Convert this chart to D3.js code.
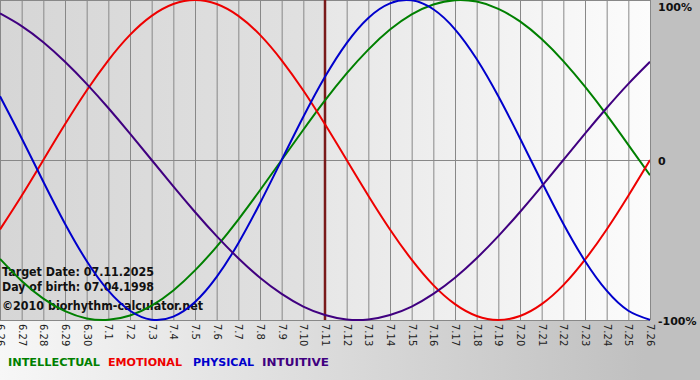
<!DOCTYPE html>
<html>
<head>
<meta charset="utf-8">
<script src="https://cdnjs.cloudflare.com/ajax/libs/d3/7.8.5/d3.min.js"></script>
<style>
  body { margin: 0; background: #fff; }
  svg { display: block; }
</style>
</head>
<body>
<div id="chart"></div>
<script>
// days shown on the chart (6.26 - 7.26)
var dayLabels = ['6.26','6.27','6.28','6.29','6.30','7.1','7.2','7.3','7.4','7.5','7.6','7.7','7.8','7.9','7.10',
  '7.11','7.12','7.13','7.14','7.15','7.16','7.17','7.18','7.19','7.20','7.21','7.22','7.23','7.24','7.25','7.26'];
var targetDay = '7.11';

// cycle values per day, -1 .. 1
var intellectual = [-0.618,-0.756,-0.866,-0.945,-0.990,-0.999,-0.972,-0.910,-0.815,-0.690,-0.541,-0.372,-0.189,0,
  0.189,0.372,0.541,0.690,0.815,0.910,0.972,0.999,0.990,0.945,0.866,0.756,0.618,0.458,0.282,0.095,-0.095];
var emotional = [-0.434,-0.223,0,0.223,0.434,0.623,0.782,0.901,0.975,1,0.975,0.901,0.782,0.623,0.434,0.223,0,
  -0.223,-0.434,-0.623,-0.782,-0.901,-0.975,-1,-0.975,-0.901,-0.782,-0.623,-0.434,-0.223,0];
var physical = [0.398,0.136,-0.136,-0.398,-0.631,-0.817,-0.942,-0.998,-0.979,-0.888,-0.731,-0.520,-0.270,0,
  0.270,0.520,0.731,0.888,0.979,0.998,0.942,0.817,0.631,0.398,0.136,-0.136,-0.398,-0.631,-0.817,-0.942,-0.998];
var intuitive = [0.916,0.837,0.736,0.614,0.476,0.325,0.165,0,-0.165,-0.325,-0.476,-0.614,-0.736,-0.837,-0.916,
  -0.969,-0.997,-0.997,-0.969,-0.916,-0.837,-0.736,-0.614,-0.476,-0.325,-0.165,0,0.165,0.325,0.476,0.614];

var seriesNames = ['INTELLECTUAL', 'EMOTIONAL', 'PHYSICAL', 'INTUITIVE'];
var seriesColors = ['#008000', '#ee0000', '#0000cc', '#400080'];
var seriesValues = [intellectual, emotional, physical, intuitive];

var yTicks = [1, 0, -1];
var yTickLabels = ['100%', '0', '-100%'];

var infoLines = ['Target Date: 07.11.2025', 'Day of birth: 07.04.1998', '\u00a92010 biorhythm-calculator.net'];

var svgWidth = 700,
    svgHeight = 380,
    plotW = 650,
    plotH = 320;

var svg = d3.select('#chart')
  .append('svg')
  .attr('width', svgWidth)
  .attr('height', svgHeight);

var defs = svg.append('defs');

var bgGrad = defs.append('linearGradient').attr('id', 'bgGrad').attr('x1', 0).attr('x2', 1).attr('y1', 0).attr('y2', 0);
bgGrad.append('stop').attr('offset', '0%').attr('stop-color', '#f7f7f7');
bgGrad.append('stop').attr('offset', '92%').attr('stop-color', '#c0c0c0');

var pastGrad = defs.append('linearGradient').attr('id', 'pastGrad').attr('x1', 0).attr('x2', 1).attr('y1', 0).attr('y2', 0);
pastGrad.append('stop').attr('offset', '0%').attr('stop-color', '#d6d6d6');
pastGrad.append('stop').attr('offset', '100%').attr('stop-color', '#e1e1e1');

var futureGrad = defs.append('linearGradient').attr('id', 'futureGrad').attr('x1', 0).attr('x2', 1).attr('y1', 0).attr('y2', 0);
futureGrad.append('stop').attr('offset', '0%').attr('stop-color', '#e7e7e7');
futureGrad.append('stop').attr('offset', '100%').attr('stop-color', '#fcfcfc');

defs.append('clipPath').attr('id', 'plotClip')
  .append('rect').attr('x', 0).attr('y', -2).attr('width', plotW).attr('height', plotH + 4);

svg.append('rect')
  .attr('width', svgWidth)
  .attr('height', svgHeight)
  .attr('fill', 'url(#bgGrad)');

var x = d3.scalePoint()
  .domain(dayLabels)
  .range([0, plotW]);

var y = d3.scaleLinear()
  .domain([-1, 1])
  .range([plotH, 0]);

var xTarget = x(targetDay);

// plot background, past and future halves
svg.append('rect')
  .attr('x', 0).attr('y', 0)
  .attr('width', xTarget).attr('height', plotH)
  .attr('fill', 'url(#pastGrad)');
svg.append('rect')
  .attr('x', xTarget).attr('y', 0)
  .attr('width', plotW - xTarget).attr('height', plotH)
  .attr('fill', 'url(#futureGrad)');

// vertical grid + rotated day labels
var xAxis = svg.append('g')
  .attr('transform', 'translate(0,' + plotH + ')')
  .call(d3.axisBottom(x).tickSizeInner(-plotH).tickSizeOuter(0));

xAxis.select('.domain').remove();
xAxis.selectAll('.tick line')
  .attr('stroke', '#888')
  .attr('stroke-width', 1);
xAxis.selectAll('.tick text')
  .attr('transform', 'rotate(90)')
  .attr('x', 4)
  .attr('y', 0)
  .attr('dy', '0.35em')
  .attr('text-anchor', 'start')
  .attr('font-family', 'Tahoma, "DejaVu Sans", sans-serif')
  .attr('font-size', '10px')
  .attr('fill', '#222');

// horizontal lines + right labels
var yAxis = svg.append('g')
  .attr('transform', 'translate(' + plotW + ',0)')
  .call(d3.axisRight(y).tickValues(yTicks).tickSizeInner(-plotW).tickSizeOuter(0).tickPadding(8)
    .tickFormat(function(d, i) { return yTickLabels[i]; }));

yAxis.select('.domain').remove();
yAxis.selectAll('.tick line')
  .attr('stroke', '#888')
  .attr('stroke-width', 1);
yAxis.selectAll('.tick text')
  .attr('font-family', '"DejaVu Sans", Verdana, sans-serif')
  .attr('font-weight', 'bold')
  .attr('font-size', '11px')
  .attr('fill', '#111')
  .attr('dy', function(d) { return d === 1 ? '0.95em' : '0.4em'; });

// target date line
svg.append('line')
  .attr('x1', xTarget).attr('x2', xTarget)
  .attr('y1', 0).attr('y2', plotH)
  .attr('stroke', '#7a1a1a')
  .attr('stroke-width', 2.5);

// info text
svg.append('g').selectAll('text')
  .data(infoLines)
  .enter()
  .append('text')
  .text(function(d) { return d; })
  .attr('x', 2)
  .attr('y', function(d, i) { return [276, 291, 310][i]; })
  .attr('textLength', function(d, i) { return [152, 152, 201][i]; })
  .attr('lengthAdjust', 'spacingAndGlyphs')
  .attr('font-family', '"DejaVu Sans", Verdana, sans-serif')
  .attr('font-weight', 'bold')
  .attr('font-size', '12px')
  .attr('fill', '#111');

// curves
var line = d3.line()
  .x(function(d, i) { return x(dayLabels[i]); })
  .y(function(d) { return y(d); })
  .curve(d3.curveNatural);

var curves = svg.append('g').attr('clip-path', 'url(#plotClip)');

seriesValues.forEach(function(values, i) {
  curves.append('path')
    .datum(values)
    .attr('d', line)
    .attr('fill', 'none')
    .attr('stroke', seriesColors[i])
    .attr('stroke-width', 2);
});

// legend
var legendX = [8, 108, 193, 262];
var legendW = [92, 74, 61, 67];

svg.append('g').selectAll('text')
  .data(seriesNames)
  .enter()
  .append('text')
  .text(function(d) { return d; })
  .attr('x', function(d, i) { return legendX[i]; })
  .attr('y', 366)
  .attr('textLength', function(d, i) { return legendW[i]; })
  .attr('lengthAdjust', 'spacingAndGlyphs')
  .attr('font-family', '"DejaVu Sans", Verdana, sans-serif')
  .attr('font-weight', 'bold')
  .attr('font-size', '11px')
  .attr('fill', function(d, i) { return seriesColors[i]; });
</script>
</body>
</html>
